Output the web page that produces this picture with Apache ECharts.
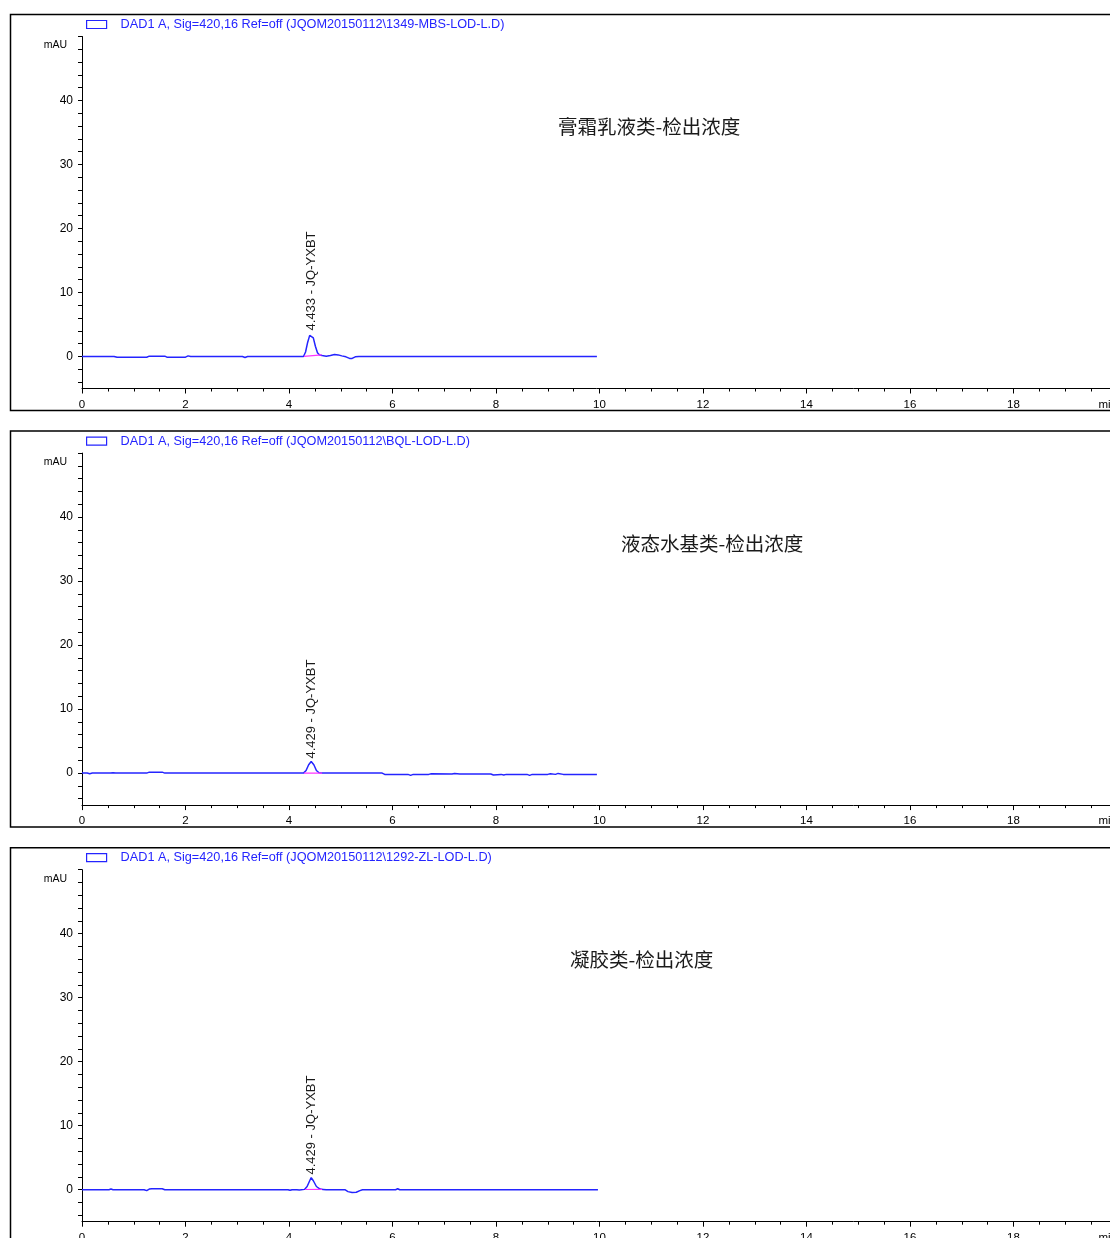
<!DOCTYPE html>
<html>
<head>
<meta charset="utf-8">
<script src="https://cdn.jsdelivr.net/npm/echarts@6/dist/echarts.min.js"></script>
<style>
  html, body { margin: 0; padding: 0; background: #ffffff; }
  #chart { width: 1110px; height: 1238px; }
</style>
</head>
<body>
<div id="chart"></div>
<script>
// Signal descriptions (DAD1 A, 420 nm) for each injection
const signalNames = [
  'DAD1 A, Sig=420,16 Ref=off (JQOM20150112\\1349-MBS-LOD-L.D)',
  'DAD1 A, Sig=420,16 Ref=off (JQOM20150112\\BQL-LOD-L.D)',
  'DAD1 A, Sig=420,16 Ref=off (JQOM20150112\\1292-ZL-LOD-L.D)'
];
// Matrix headings
const matrixTitles = ['膏霜乳液类-检出浓度', '液态水基类-检出浓度', '凝胶类-检出浓度'];

// Peak identification
const compoundName = 'JQ-YXBT';
const retentionTimes = [4.433, 4.429, 4.429];

// Axis ticks
const timeTicksMax = 20;
const timeTickStep = 2;
const absorbMin = -5;
const absorbMax = 50;
const absorbLabels = [0, 10, 20, 30, 40];
const absorbTicks = [-4, -2, 0, 2, 4, 6, 8, 10, 12, 14, 16, 18, 20, 22, 24, 26, 28, 30, 32, 34, 36, 38, 40, 42, 44, 46, 48, 50];

// Trace 1: 膏霜乳液类 (min, mAU)
const time1 = [0, 0.12, 0.15, 0.2, 0.55, 0.58, 0.62, 0.68, 1.25, 1.3, 1.6, 1.64, 2.0, 2.05, 2.1, 2.15, 3.1, 3.15, 3.2,
  4.28, 4.32, 4.36, 4.40, 4.433, 4.47, 4.51, 4.55, 4.59, 4.64, 4.72, 4.8, 4.88, 4.95, 5.02, 5.1, 5.17, 5.22, 5.28, 5.35, 9.95];
const absorb1 = [0, 0, -0.15, 0, 0, -0.15, 0, -0.12, -0.12, 0.05, 0.05, -0.1, -0.1, 0.1, 0, 0, 0, -0.15, 0,
  0, 0.7, 2.2, 3.3, 3.6, 2.9, 1.6, 0.6, 0.25, 0.15, 0.05, 0.15, 0.3, 0.25, 0.1, -0.05, -0.3, -0.3, -0.05, 0, 0];

// Trace 2: 液态水基类
const time2 = [0, 0.1, 0.15, 0.2, 0.55, 0.6, 0.65, 1.25, 1.3, 1.55, 1.6,
  4.28, 4.33, 4.38, 4.429, 4.48, 4.53, 4.58, 4.64, 5.8, 5.85, 6.3, 6.35, 6.4, 6.7, 6.75, 7.15, 7.2, 7.3,
  7.6, 7.9, 7.95, 8.1, 8.15, 8.2, 8.6, 8.65, 8.7, 9.0, 9.05, 9.15, 9.2, 9.3, 9.35, 9.95];
const absorb2 = [0, 0, -0.1, 0, 0, 0.05, 0, 0, 0.15, 0.15, 0,
  0, 0.4, 1.3, 1.8, 1.3, 0.4, 0.05, 0, 0, -0.2, -0.2, -0.35, -0.2, -0.2, -0.1, -0.15, -0.05, -0.15,
  -0.15, -0.15, -0.3, -0.2, -0.3, -0.2, -0.2, -0.35, -0.2, -0.2, -0.1, -0.2, -0.05, -0.2, -0.2, -0.2];

// Trace 3: 凝胶类
const time3 = [0, 0.08, 0.11, 0.14, 0.52, 0.56, 0.6, 1.2, 1.25, 1.3, 1.35, 1.55, 1.6, 3.98, 4.02, 4.06, 4.15, 4.2,
  4.3, 4.35, 4.4, 4.429, 4.47, 4.53, 4.6, 4.66, 4.72, 5.08, 5.14, 5.22, 5.3, 5.37, 5.42, 6.06, 6.1, 6.14,
  9.05, 9.08, 9.11, 9.97];
const absorb3 = [0, 0, 0.12, 0, 0, 0.12, 0, 0, -0.15, 0.1, 0.15, 0.15, 0, 0, -0.1, 0, 0, -0.05,
  0.05, 0.5, 1.4, 1.9, 1.4, 0.5, 0.1, 0.05, 0, 0, -0.3, -0.45, -0.4, -0.15, 0, 0, 0.15, 0,
  0, 0.1, 0, 0];

// Integration baselines under the peak: [start time, start mAU, end time, end mAU]
const baseline1 = [4.29, 0.02, 4.63, 0.25];
const baseline2 = [4.29, 0.0, 4.64, 0.0];
const baseline3 = [4.31, 0.03, 4.64, 0.05];

const traceTimes = [time1, time2, time3];
const traceValues = [absorb1, absorb2, absorb3];
const baselines = [baseline1, baseline2, baseline3];

const traceBlue = '#2424ff';
const peakPink = '#ff33ff';
const labelFont = 'Liberation Sans, Arial, sans-serif';

const panelHeight = 416.6;
const gridTops = [36.5, 36.5 + panelHeight, 36.5 + 2 * panelHeight];

const grids = [], xAxes = [], yAxes = [], series = [], legends = [], titles = [], frames = [];
const titleLefts = [558, 621, 570];

for (let i = 0; i < 3; i++) {
  const top = gridTops[i];
  grids.push({ left: 82, top: top, width: 1035, height: 352, containLabel: false, outerBoundsMode: 'none' });

  xAxes.push({
    type: 'value', gridIndex: i, min: 0, max: timeTicksMax, interval: timeTickStep,
    axisLine: { onZero: false, lineStyle: { color: '#000', width: 1 } },
    axisTick: { length: 5, lineStyle: { color: '#000' } },
    minorTick: { show: true, splitNumber: 4, length: 3, lineStyle: { color: '#000' } },
    splitLine: { show: false },
    axisLabel: {
      color: '#000', fontSize: 11.5, fontFamily: labelFont, margin: 10,
      alignMaxLabel: 'right',
      formatter: v => (v === timeTicksMax ? 'min' : String(v))
    }
  });

  yAxes.push({
    type: 'value', gridIndex: i, min: absorbMin, max: absorbMax,
    name: 'mAU', nameLocation: 'end', nameGap: -9,
    nameTextStyle: { color: '#000', fontSize: 10.5, fontFamily: labelFont, align: 'right', verticalAlign: 'middle', padding: [0, 15, 0, 0] },
    axisLine: { show: true, onZero: false, lineStyle: { color: '#000', width: 1 } },
    axisTick: { show: true, length: 4, customValues: absorbTicks, lineStyle: { color: '#000' } },
    splitLine: { show: false },
    axisLabel: { color: '#000', fontSize: 12, fontFamily: labelFont, margin: 9, customValues: absorbLabels }
  });

  const times = traceTimes[i], vals = traceValues[i];
  const peakIdx = times.indexOf(retentionTimes[i]);

  series.push({
    name: signalNames[i], type: 'line', xAxisIndex: i, yAxisIndex: i,
    data: times.map((t, k) => [t, vals[k]]), showSymbol: false, symbol: 'none', silent: true,
    lineStyle: { color: traceBlue, width: 1.5 },
    itemStyle: { color: '#fff', borderColor: traceBlue, borderWidth: 1 },
    markPoint: {
      silent: true, symbol: 'circle', symbolSize: 0, animation: false,
      data: [{ coord: [times[peakIdx], vals[peakIdx]] }],
      label: {
        show: true, rotate: 90, position: 'top', distance: 3,
        align: 'left', verticalAlign: 'middle',
        color: '#1a1a1a', fontSize: 13, fontFamily: labelFont,
        formatter: retentionTimes[i].toFixed(3) + ' - ' + compoundName
      }
    },
    z: 3
  });

  const b = baselines[i];
  series.push({
    name: 'baseline-' + (i + 1), type: 'line', xAxisIndex: i, yAxisIndex: i,
    data: [[b[0], b[1]], [b[2], b[3]]], symbol: 'none', silent: true,
    lineStyle: { color: peakPink, width: 1.2 }, z: 4
  });

  legends.push({
    data: [{ name: signalNames[i], icon: 'rect', itemStyle: { color: '#fff', borderColor: traceBlue, borderWidth: 1.2 } }],
    left: 86, top: 18 + i * panelHeight, padding: 0,
    itemWidth: 20, itemHeight: 8, selectedMode: false,
    textStyle: { color: traceBlue, fontSize: 12.7, fontFamily: labelFont, padding: [0, 0, 0, 9] }
  });

  titles.push({
    text: matrixTitles[i], left: titleLefts[i], top: 117 + i * panelHeight, padding: 0,
    textStyle: { color: '#1a1a1a', fontSize: 19.5, fontWeight: 'normal', fontFamily: 'Noto Sans CJK SC' }
  });

  frames.push({
    type: 'rect', silent: true,
    shape: { x: 10.5, y: 14.5 + i * panelHeight, width: 1120, height: 396 },
    style: { fill: 'none', stroke: '#000', lineWidth: 1.5 }
  });
}

const chart = echarts.init(document.getElementById('chart'), null, { renderer: 'canvas' });
chart.setOption({
  animation: false,
  backgroundColor: '#ffffff',
  title: titles,
  legend: legends,
  grid: grids,
  xAxis: xAxes,
  yAxis: yAxes,
  series: series,
  graphic: frames
});
</script>
</body>
</html>
